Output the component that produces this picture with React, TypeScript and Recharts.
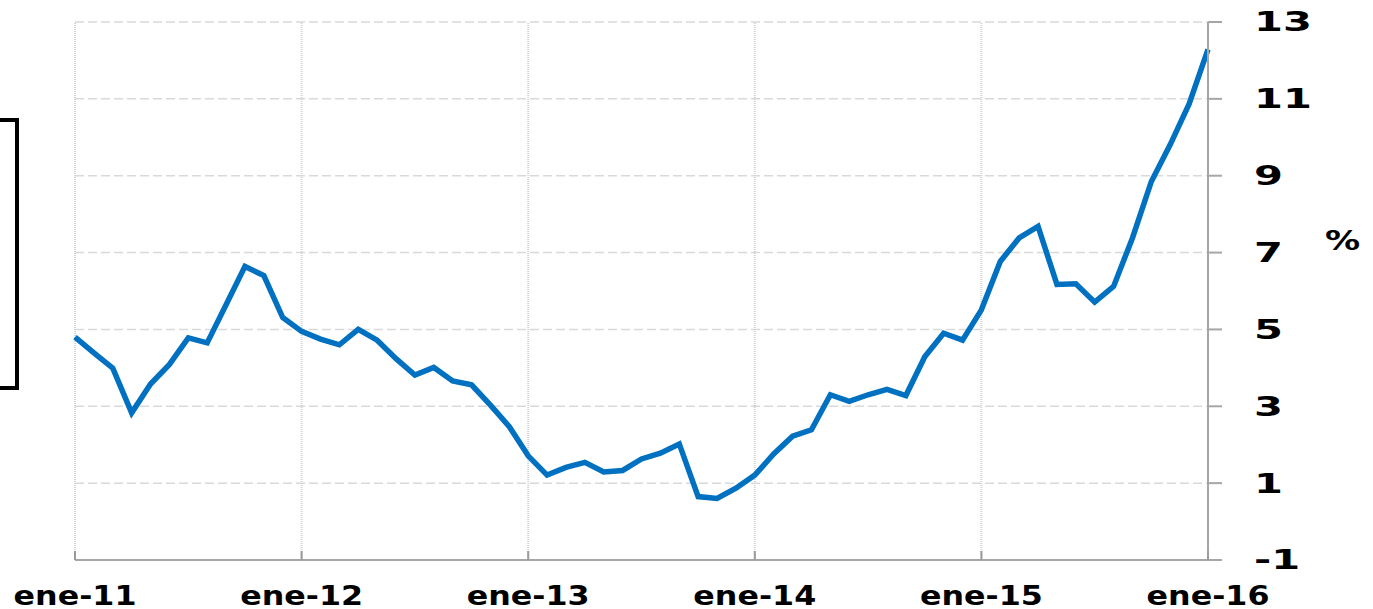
import React from 'react';
import { LineChart, Line, XAxis, YAxis, CartesianGrid, ReferenceLine } from 'recharts';

const months: string[] = [
  'ene-11','feb-11','mar-11','abr-11','may-11','jun-11','jul-11','ago-11','sep-11','oct-11','nov-11','dic-11',
  'ene-12','feb-12','mar-12','abr-12','may-12','jun-12','jul-12','ago-12','sep-12','oct-12','nov-12','dic-12',
  'ene-13','feb-13','mar-13','abr-13','may-13','jun-13','jul-13','ago-13','sep-13','oct-13','nov-13','dic-13',
  'ene-14','feb-14','mar-14','abr-14','may-14','jun-14','jul-14','ago-14','sep-14','oct-14','nov-14','dic-14',
  'ene-15','feb-15','mar-15','abr-15','may-15','jun-15','jul-15','ago-15','sep-15','oct-15','nov-15','dic-15',
  'ene-16',
];

const values: number[] = [
  4.80, 4.39, 3.99, 2.83, 3.58, 4.09, 4.78, 4.65, 5.64, 6.64, 6.40, 5.31,
  4.95, 4.75, 4.60, 5.00, 4.72, 4.24, 3.81, 4.01, 3.66, 3.56, 3.03, 2.47,
  1.71, 1.21, 1.41, 1.54, 1.29, 1.33, 1.63, 1.78, 2.02, 0.65, 0.60, 0.87,
  1.21, 1.76, 2.22, 2.39, 3.30, 3.13, 3.30, 3.44, 3.28, 4.29, 4.90, 4.72,
  5.51, 6.77, 7.38, 7.68, 6.17, 6.19, 5.71, 6.12, 7.38, 8.85, 9.81, 10.87,
  12.29,
];

const yearLabels: string[] = ['ene-11', 'ene-12', 'ene-13', 'ene-14', 'ene-15', 'ene-16'];
const yTicks: number[] = [-1, 1, 3, 5, 7, 9, 11, 13];
const unitLabel = '%';

const data = months.map((m, i) => ({ month: m, value: values[i] }));

const FONT = '"DejaVu Sans", Verdana, sans-serif';

const XTick = (props: any) => {
  const { x, y, payload } = props;
  return (
    <g transform={`translate(${x},${y})`}>
      <line x1={0} y1={0} x2={0} y2={-9} stroke="#9a9a9a" strokeWidth={2} />
      <text
        x={0}
        y={45}
        textAnchor="middle"
        fontFamily={FONT}
        fontWeight="bold"
        fontSize={26}
        fill="#000"
        transform="scale(1.22,1)"
      >
        {payload.value}
      </text>
    </g>
  );
};

const YTick = (props: any) => {
  const { x, y, payload } = props;
  return (
    <g transform={`translate(${x},${y})`}>
      <text
        x={0}
        y={0}
        dy="0.36em"
        textAnchor="start"
        fontFamily={FONT}
        fontWeight="bold"
        fontSize={26}
        fill="#000"
        transform="scale(1.6,1)"
      >
        {payload.value}
      </text>
    </g>
  );
};

export default function App() {
  return (
    <div style={{ position: 'absolute', left: 0, top: 0, width: 1373, height: 609, background: '#fff', overflow: 'hidden' }}>
      <div
        style={{
          position: 'absolute',
          left: -10,
          top: 118,
          width: 21,
          height: 264,
          border: '4px solid #000',
        }}
      />
      <LineChart
        width={1373}
        height={609}
        data={data}
        margin={{ top: 22, right: 50, bottom: 0, left: 75 }}
      >
        <CartesianGrid
          vertical={false}
          stroke="#d9d9d9"
          strokeWidth={1.5}
          strokeDasharray="9 4"
        />
        {yearLabels.map((lbl) => (
          <ReferenceLine
            key={lbl}
            x={lbl}
            stroke="#d4d4d4"
            strokeWidth={2}
            strokeDasharray="1 1"
          />
        ))}
        <XAxis
          dataKey="month"
          scale="point"
          padding={{ left: 0, right: 0 }}
          interval={11}
          height={49}
          tickSize={0}
          tickMargin={0}
          tickLine={false}
          axisLine={{ stroke: '#a6a6a6', strokeWidth: 2 }}
          tick={<XTick />}
        />
        <YAxis
          orientation="right"
          width={115}
          domain={[-1, 13]}
          ticks={yTicks}
          interval={0}
          tickSize={14}
          tickMargin={32}
          axisLine={{ stroke: '#a6a6a6', strokeWidth: 2 }}
          tickLine={{ stroke: '#a6a6a6', strokeWidth: 2 }}
          tick={<YTick />}
        />
        <Line
          type="linear"
          dataKey="value"
          stroke="#0070C0"
          strokeWidth={5.5}
          dot={false}
          activeDot={false}
          isAnimationActive={false}
        />
      </LineChart>
      <div
        style={{
          position: 'absolute',
          left: 1325,
          top: 226,
          fontFamily: FONT,
          fontWeight: 'bold',
          fontSize: 26,
          lineHeight: '30px',
          color: '#000',
          transform: 'scaleX(1.35)',
          transformOrigin: 'left center',
        }}
      >
        {unitLabel}
      </div>
    </div>
  );
}
